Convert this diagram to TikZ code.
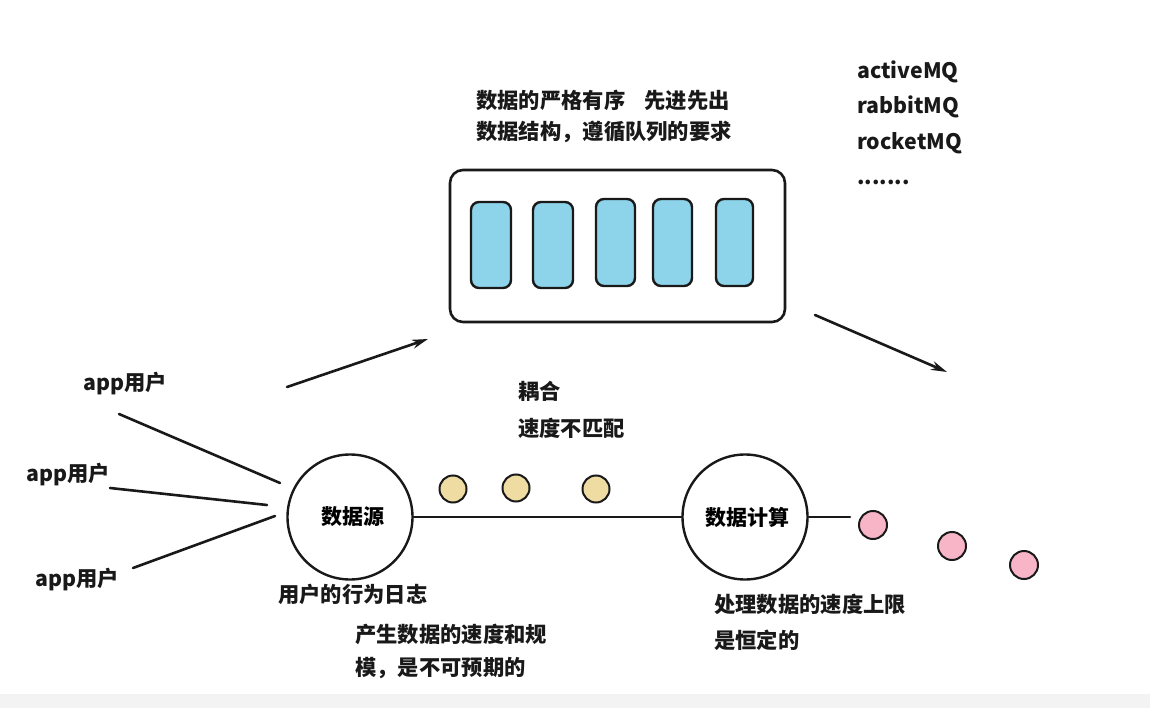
\documentclass[tikz,border=0pt]{standalone}
\usepackage{fontspec}
\setmainfont{Noto Sans CJK SC}
\usetikzlibrary{arrows.meta}
\definecolor{qblue}{HTML}{8DD3EA}
\definecolor{dotyellow}{HTML}{EEDCA3}
\definecolor{dotpink}{HTML}{F9B5C8}
\definecolor{bandgray}{HTML}{F3F3F3}
\tikzset{
  txt/.style={font=\fontsize{21.3}{25}\selectfont\bfseries, inner sep=0pt, anchor=west, text=black!90},
  ink/.style={line width=2.6pt, line cap=round, draw=black!90},
  slot/.style={draw=black!90, line width=2.4pt, fill=qblue, rounded corners=8pt},
  bigcircle/.style={circle, draw=black!90, line width=2.4pt, minimum size=125pt, inner sep=0pt, font=\fontsize{21}{25}\selectfont\bfseries},
  ydot/.style={circle, draw=black!90, line width=2pt, fill=dotyellow, minimum size=27pt, inner sep=0pt},
  pdot/.style={circle, draw=black!90, line width=2pt, fill=dotpink, minimum size=28pt, inner sep=0pt},
  arr/.style={ink, -{Stealth[length=16pt,width=9pt]}}
}
\begin{document}
\begin{tikzpicture}[x=1pt,y=-1pt]
\useasboundingbox (0,0) rectangle (1150,708);
\fill[white] (0,0) rectangle (1150,708);
\fill[bandgray] (0,694) rectangle (1150,708);
% queue
\draw[ink, rounded corners=13pt] (450,170) rectangle (785,322);
\draw[slot] (471,202) rectangle (511,288);
\draw[slot] (533,202) rectangle (573,288);
\draw[slot] (596,199) rectangle (635,286);
\draw[slot] (653,199) rectangle (692,286);
\draw[slot] (716,199) rectangle (753,286);
% top texts
\node[txt] (t1) at (476,100) {数据的严格有序\hspace{0.9em}先进先出};
\node[txt] (t2) at (476,132) {数据结构，遵循队列的要求};
\node[txt] (m1) at (857,72) {activeMQ};
\node[txt] (m2) at (857,107) {rabbitMQ};
\node[txt] (m3) at (857,143) {rocketMQ};
\node[txt] (m4) at (857,182) {.......};
% arrows
\coordinate (a1s) at (287,387);
\coordinate (a1e) at (428,339);
\coordinate (a2s) at (815,315);
\coordinate (a2e) at (947,372);
\draw[arr] (a1s) -- (a1e);
\draw[arr] (a2s) -- (a2e);
% middle texts
\node[txt] (c1) at (518,391) {耦合};
\node[txt] (c2) at (518,428) {速度不匹配};
% circles
\node[bigcircle] (src) at (350,517) {\hspace{6pt}数据源};
\node[bigcircle] (calc) at (745,517) {\hspace{4pt}数据计算};
\draw[ink] (src.east) -- (calc.west);
\coordinate (tail) at (850,517);
\draw[ink] (calc.east) -- (tail);
\node[ydot] (y1) at (453,489) {};
\node[ydot] (y2) at (516,488) {};
\node[ydot] (y3) at (596,489) {};
\node[pdot] (p1) at (873,525) {};
\node[pdot] (p2) at (952,546) {};
\node[pdot] (p3) at (1024,565) {};
% app users
\node[txt] (u1) at (83,384) {app用户};
\node[txt] (u2) at (26,475) {app用户};
\node[txt] (u3) at (35,580) {app用户};
\coordinate (l1s) at (119,414); \coordinate (l1e) at (280,483);
\coordinate (l2s) at (110,488); \coordinate (l2e) at (267,505);
\coordinate (l3s) at (133,568); \coordinate (l3e) at (275,516);
\draw[ink] (l1s) -- (l1e);
\draw[ink] (l2s) -- (l2e);
\draw[ink] (l3s) -- (l3e);
% bottom texts
\node[txt] (b1) at (278,594) {用户的行为日志};
\node[txt] (b2) at (355,634) {产生数据的速度和规};
\node[txt] (b3) at (355,668) {模，是不可预期的};
\node[txt] (b4) at (714,604) {处理数据的速度上限};
\node[txt] (b5) at (714,640) {是恒定的};
\end{tikzpicture}
\end{document}
